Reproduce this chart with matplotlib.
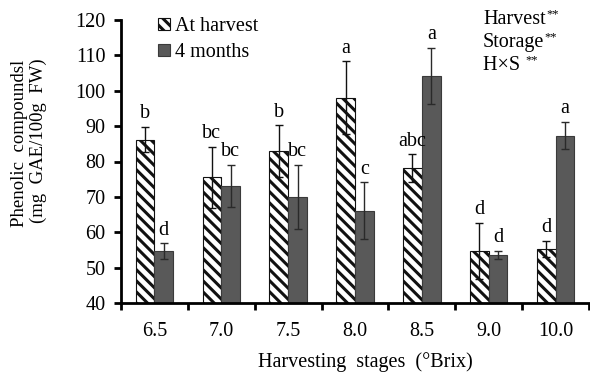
import matplotlib
matplotlib.use("Agg")
import matplotlib.pyplot as plt
import numpy as np
from matplotlib.patches import Patch

plt.rcParams['font.family'] = ['Liberation Serif', 'DejaVu Serif']
plt.rcParams['hatch.linewidth'] = 2.2

categories = ["6.5", "7.0", "7.5", "8.0", "8.5", "9.0", "10.0"]
harvest = [86.2, 75.5, 83.0, 98.0, 78.2, 54.7, 55.3]
harvest_err = [3.6, 8.6, 7.3, 10.3, 3.9, 8.0, 2.3]
months4 = [54.7, 73.1, 70.0, 66.1, 104.2, 53.5, 87.3]
months4_err = [2.2, 5.9, 9.0, 8.0, 8.0, 1.2, 3.9]
harvest_letters = ["b", "bc", "b", "a", "abc", "d", "d"]
months4_letters = ["d", "bc", "bc", "c", "a", "d", "a"]
yticks = [40, 50, 60, 70, 80, 90, 100, 110, 120]

FS = 14.5

fig = plt.figure(figsize=(5.9, 3.73), dpi=100)
ax = fig.add_axes([121/590, 70/373, 468/590, 283/373])

x = np.arange(len(categories))
w = 0.28
dark = '#595959'
ax.bar(x - w, harvest, width=w, align='edge', color='white',
       edgecolor='#111111', hatch='\\\\\\', linewidth=0.8, zorder=2)
ax.bar(x, months4, width=w, align='edge', color=dark,
       edgecolor='#3a3a3a', linewidth=0.8, zorder=2)
ax.errorbar(x - w/2, harvest, yerr=harvest_err, fmt='none', ecolor='#111111',
            elinewidth=1.0, capsize=3, capthick=1.0, zorder=3)
ax.errorbar(x + w/2, months4, yerr=months4_err, fmt='none', ecolor='#2a2a2a',
            elinewidth=1.0, capsize=3, capthick=1.0, zorder=3)

for i in range(len(categories)):
    ax.text(x[i] - w/2, harvest[i] + harvest_err[i] + 1.0, harvest_letters[i],
            ha='center', va='bottom', fontsize=FS)
    ax.text(x[i] + w/2, months4[i] + months4_err[i] + 1.0, months4_letters[i],
            ha='center', va='bottom', fontsize=FS)

ax.set_ylim(40, 120)
ax.set_xlim(-0.5, len(categories) - 0.5)
ax.set_yticks(yticks)
ax.set_yticklabels([str(t) for t in yticks], fontsize=FS)
ax.set_xticks(x)
ax.set_xticklabels(categories, fontsize=FS)
ax.set_xticks(np.arange(-0.5, len(categories) + 0.5, 1.0), minor=True)
ax.tick_params(axis='x', which='major', length=0, pad=14)
ax.tick_params(axis='x', which='minor', length=5, width=2, direction='out')
ax.tick_params(axis='y', length=5, width=2, direction='out', pad=6)

for s in ['top', 'right']:
    ax.spines[s].set_visible(False)
for s in ['left', 'bottom']:
    ax.spines[s].set_linewidth(2)

fig.text(20/590, 1 - 143/373, "Phenolic  compoundsl", rotation=90,
         ha='center', va='center', fontsize=13.5)
fig.text(38/590, 1 - 141/373, "(mg  GAE/100g  FW)", rotation=90,
         ha='center', va='center', fontsize=13.5)
fig.text(365/590, 1 - 362/373, "Harvesting  stages  (°Brix)",
         ha='center', va='center', fontsize=FS)

handles = [Patch(facecolor='white', edgecolor='#111111', hatch='\\\\\\', linewidth=0.8),
           Patch(facecolor=dark, edgecolor='#3a3a3a', linewidth=0.8)]
ax.legend(handles, ["At harvest", "4 months"], loc='upper left',
          bbox_to_anchor=(158/590, 1 - 17/373), bbox_transform=fig.transFigure,
          frameon=False, fontsize=FS, handlelength=0.6, handleheight=0.6,
          handletextpad=0.25, labelspacing=0.35, borderpad=0, borderaxespad=0)

ann = [("Harvest", 20), ("Storage", 43), ("H×S ", 66)]
for label, yy in ann:
    t = fig.text(483/590, 1 - yy/373, label, ha='left', va='center', fontsize=FS)
fig.canvas.draw()
r = fig.canvas.get_renderer()
for (label, yy), t in zip(ann, fig.texts[-3:]):
    bb = t.get_window_extent(renderer=r)
    fig.text(bb.x1 / 590 + 0.5/590, 1 - (yy - 6) / 373, "**", ha='left', va='center',
             fontsize=9)

fig.savefig("out.png", dpi=100)
